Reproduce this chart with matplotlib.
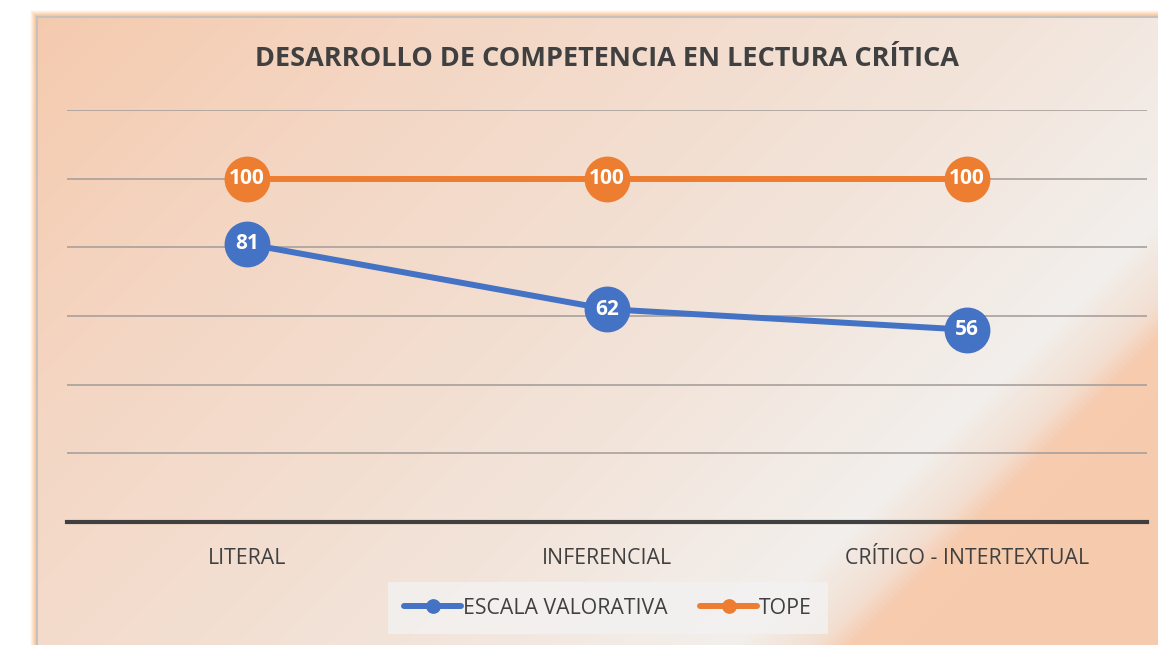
import numpy as np
import matplotlib.pyplot as plt
from matplotlib.colors import LinearSegmentedColormap
from matplotlib.patches import Rectangle

categories = ['LITERAL', 'INFERENCIAL', 'CRÍTICO - INTERTEXTUAL']
escala_valorativa = [81, 62, 56]
tope = [100, 100, 100]

BLUE = '#4472C4'
ORANGE = '#ED7D31'

plt.rcParams['font.family'] = ['Open Sans', 'DejaVu Sans']

W, H = 1158, 645
fig = plt.figure(figsize=(W / 100, H / 100), dpi=100)
fig.patch.set_facecolor('white')

# background: chart area with diagonal gradient, orange glow around it
bg = fig.add_axes([0, 0, 1, 1], zorder=0)
bg.axis('off')

x0, y0 = 37, 17
for i, a in enumerate(np.linspace(0.08, 0.4, 7)):
    pad = 7 - i
    bg.add_patch(Rectangle((x0 - pad, y0 - pad), W, H, facecolor='#FBB884',
                           edgecolor='none', alpha=a, zorder=0))

xx, yy = np.meshgrid(np.arange(x0, W), np.arange(y0, H))
s = (xx + yy) / 1500.0
grad = LinearSegmentedColormap.from_list(
    'g', [(0.0, '#F5C9AB'), (0.3, '#F4D6C3'), (0.7, '#F2E4DA'),
          (0.92, '#F2EFEC'), (0.975, '#F3DFD1'), (1.0, '#F6CCAF')])
bg.imshow(np.clip(s, 0, 1), cmap=grad, vmin=0, vmax=1,
          extent=(x0, W, H, y0), aspect='auto', interpolation='bilinear', zorder=1)
s2 = np.clip((xx + yy - 1490) / 170.0, 0, 1)
peach = np.zeros(s2.shape + (4,))
peach[..., :3] = np.array([246, 202, 172]) / 255
peach[..., 3] = s2
bg.imshow(peach, extent=(x0, W, H, y0), aspect='auto', zorder=1)
bg.plot([x0, W], [y0, y0], color='#C8C0BA', lw=1.5, zorder=2)
bg.plot([x0, x0], [y0, H], color='#C8C0BA', lw=1.5, zorder=2)
bg.set_xlim(0, W)
bg.set_ylim(H, 0)

ax = fig.add_axes([67 / W, 1 - 522 / H, 1080 / W, 412 / H], zorder=1)
ax.patch.set_alpha(0)
x = np.arange(len(categories))

ax.plot(x, escala_valorativa, color=BLUE, lw=4.3, marker='o', markersize=32,
        solid_capstyle='round', label='ESCALA VALORATIVA', zorder=3)
ax.plot(x, tope, color=ORANGE, lw=4.3, marker='o', markersize=32,
        solid_capstyle='round', label='TOPE', zorder=3)

for xi, v in zip(x, escala_valorativa):
    ax.text(xi, v, str(v), ha='center', va='center', color='white',
            fontsize=15, fontweight='bold', zorder=4)
for xi, v in zip(x, tope):
    ax.text(xi, v, str(v), ha='center', va='center', color='white',
            fontsize=15, fontweight='bold', zorder=4)

ax.set_xlim(-0.5, 2.5)
ax.set_ylim(0, 120)
ax.set_yticks(np.arange(20, 121, 20))
ax.yaxis.grid(True, color='#A8A09C', lw=1.2)
ax.tick_params(axis='y', left=False, labelleft=False)
ax.set_xticks(x)
ax.set_xticklabels(categories, fontsize=15.3, color='#404040')
ax.tick_params(axis='x', length=0, pad=19)
for side in ['top', 'right', 'left']:
    ax.spines[side].set_visible(False)
ax.spines['bottom'].set_color('#404040')
ax.spines['bottom'].set_linewidth(3)

fig.text(607 / W, 1 - 59 / H, 'DESARROLLO DE COMPETENCIA EN LECTURA CRÍTICA',
         ha='center', va='center', fontsize=19.5, fontweight='bold', color='#404040')

leg = ax.legend(loc='center', bbox_to_anchor=(541 / 1080, -(608 - 522) / 412),
                ncol=2, frameon=True, fontsize=15.3, markerscale=0.3,
                handlelength=2.7, columnspacing=1.5, handletextpad=0.1,
                borderpad=0.45, borderaxespad=0)
leg.get_frame().set_facecolor('#F2F2F2')
leg.get_frame().set_edgecolor('none')
leg.get_frame().set_alpha(0.8)
leg.get_frame().set_boxstyle('square')
for t in leg.get_texts():
    t.set_color('#404040')

fig.savefig('out.png', dpi=100)
